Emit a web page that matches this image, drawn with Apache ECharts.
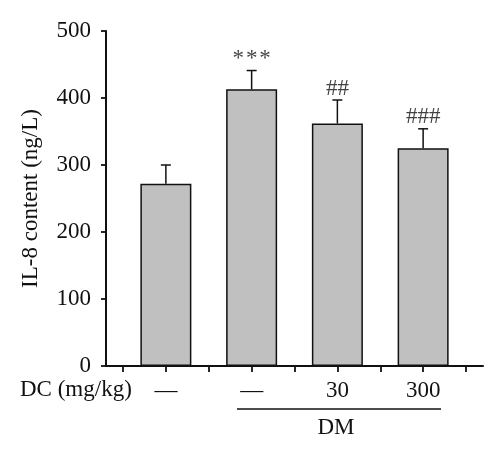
<!DOCTYPE html>
<html>
<head>
<meta charset="utf-8">
<script src="https://cdn.jsdelivr.net/npm/echarts@6/dist/echarts.min.js"></script>
<style>html,body{margin:0;padding:0;background:#fff}#c{width:500px;height:460px}</style>
</head>
<body>
<div id="c"></div>
<script>
const categories = ['—', '—', '30', '300'];
const means = [272, 413, 362, 325];
const errors = [28, 28, 35, 29];
const marks = ['', '*\u200A*\u200A*', '##', '###'];
const rowLabel = 'DC (mg/kg)';
const groupLabel = 'DM';

const FONT = "'Liberation Serif', 'DejaVu Serif', serif";
const FS = 23;
const chart = echarts.init(document.getElementById('c'), null, {renderer: 'canvas'});

const errData = means.map((m, i) => [i, m, m + errors[i]]);
const markData = means.map((m, i) => ({value: [i, m + errors[i]], label: {formatter: marks[i]}}));

chart.setOption({
  animation: false,
  backgroundColor: '#fff',
  graphic: [
    {type: 'text', left: 20, top: 378, style: {text: rowLabel, fontFamily: FONT, fontSize: FS, fill: '#111'}},
    {type: 'text', x: 336, y: 428, style: {text: groupLabel, fontFamily: FONT, fontSize: FS, fill: '#111', textAlign: 'center', textVerticalAlign: 'middle'}},
    {type: 'line', shape: {x1: 237, y1: 409, x2: 441, y2: 409}, style: {stroke: '#111', lineWidth: 1.5}}
  ],
  grid: [
    {left: 123, right: 34, top: 31, bottom: 94},
    {left: 106, right: 17, top: 31, bottom: 94}
  ],
  xAxis: [
    {gridIndex: 0, type: 'category', data: categories, boundaryGap: true, z: 5,
     axisLine: {show: false},
     axisTick: {show: true, alignWithLabel: true, length: 6, lineStyle: {color: '#111', width: 1.8}},
     axisLabel: {fontFamily: FONT, fontSize: FS, color: '#111', margin: 13}},
    {gridIndex: 0, type: 'value', min: 0, max: 4, interval: 1, position: 'bottom', z: 5,
     axisLine: {show: false},
     axisTick: {show: true, length: 6, lineStyle: {color: '#111', width: 1.8}},
     axisLabel: {show: true, formatter: function () { return ''; }}, splitLine: {show: false}},
    {gridIndex: 1, type: 'value', min: 0, max: 1, position: 'bottom', z: 6,
     axisLine: {show: true, lineStyle: {color: '#111', width: 2}},
     axisTick: {show: false}, axisLabel: {show: false}, splitLine: {show: false}}
  ],
  yAxis: [
    {gridIndex: 1, type: 'value', min: 0, max: 500, interval: 100,
     name: 'IL-8 content (ng/L)', nameLocation: 'middle', nameGap: 64, nameRotate: 90,
     nameTextStyle: {fontFamily: FONT, fontSize: FS, color: '#111'},
     axisLine: {show: true, lineStyle: {color: '#111', width: 2}},
     axisTick: {show: true, length: 5, lineStyle: {color: '#111', width: 1.8}},
     axisLabel: {fontFamily: FONT, fontSize: FS, color: '#111', margin: 15},
     splitLine: {show: false}},
    {gridIndex: 0, type: 'value', min: 0, max: 500, interval: 100, show: false}
  ],
  series: [
    {type: 'bar', xAxisIndex: 0, yAxisIndex: 1, data: means, barWidth: 51,
     itemStyle: {color: '#c0c0c0', borderColor: '#111', borderWidth: 1.5}},
    {type: 'custom', xAxisIndex: 0, yAxisIndex: 1, data: errData, z: 3,
     renderItem: function (params, api) {
       const x = api.value(0);
       const base = api.coord([x, api.value(1)]);
       const top = api.coord([x, api.value(2)]);
       const hw = 5;
       const st = {stroke: '#111', lineWidth: 1.5};
       return {type: 'group', children: [
         {type: 'line', shape: {x1: base[0], y1: base[1], x2: top[0], y2: top[1]}, style: st},
         {type: 'line', shape: {x1: top[0] - hw, y1: top[1], x2: top[0] + hw, y2: top[1]}, style: st}
       ]};
     }},
    {type: 'scatter', xAxisIndex: 0, yAxisIndex: 1, data: markData, symbolSize: 0, z: 4,
     label: {show: true, position: 'top', distance: 0, fontFamily: FONT, fontSize: FS, color: '#111'}}
  ]
});
</script>
</body>
</html>
